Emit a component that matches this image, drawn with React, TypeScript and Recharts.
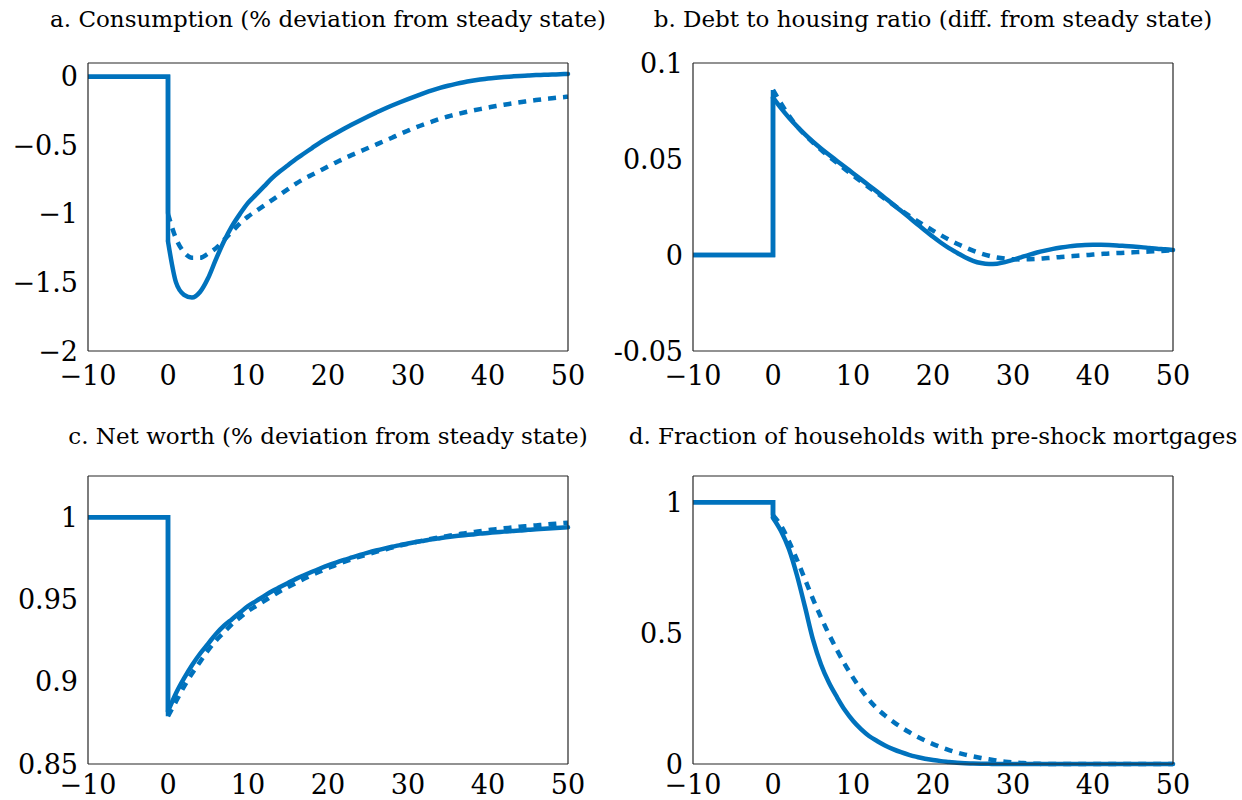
import React from "react";
import { LineChart, Line, XAxis, YAxis } from "recharts";

const BLUE = "#0072bd";
const FRAME = "#262626";
const TICK = "#a6a6a6";
const SERIF = '"DejaVu Serif", "Liberation Serif", Times, serif';

// quarters after the shock
const periods = [
  0, 1, 2, 3, 4, 5, 6, 7, 8, 9, 10, 11, 12, 13, 14, 15, 16, 17, 18, 19, 20, 21, 22, 23, 24, 25,
  26, 27, 28, 29, 30, 31, 32, 33, 34, 35, 36, 37, 38, 39, 40, 41, 42, 43, 44, 45, 46, 47, 48, 49, 50,
];
const xTicks = [-10, 0, 10, 20, 30, 40, 50];

// a. consumption
const consumptionSolid = [
  -1.2, -1.5, -1.59, -1.61, -1.57, -1.47, -1.33, -1.2, -1.09, -1.0, -0.92,
  -0.86, -0.8, -0.74, -0.69, -0.645, -0.6, -0.56, -0.52, -0.48, -0.445,
  -0.412, -0.38, -0.349, -0.319, -0.29, -0.262, -0.235, -0.21, -0.186, -0.163,
  -0.141, -0.12, -0.1, -0.082, -0.066, -0.052, -0.04, -0.03, -0.021, -0.013,
  -0.007, -0.002, 0.002, 0.006, 0.009, 0.012, 0.014, 0.016, 0.018, 0.02,
];
const consumptionDashed = [
  -1.0, -1.18, -1.28, -1.32, -1.32, -1.29, -1.25, -1.19, -1.13, -1.07, -1.02,
  -0.98, -0.94, -0.9, -0.86, -0.82, -0.78, -0.745, -0.715, -0.685, -0.655,
  -0.625, -0.597, -0.57, -0.545, -0.52, -0.495, -0.47, -0.445, -0.418, -0.393,
  -0.369, -0.347, -0.327, -0.307, -0.29, -0.275, -0.261, -0.248, -0.236, -0.225,
  -0.214, -0.204, -0.195, -0.186, -0.178, -0.17, -0.163, -0.157, -0.151, -0.146,
];
const consumptionTicks = [-2, -1.5, -1, -0.5, 0];

// b. debt to housing ratio
const debtSolid = [
  0.082, 0.0765, 0.0715, 0.067, 0.0628, 0.059, 0.0555, 0.0522, 0.049, 0.0458, 0.0426,
  0.0394, 0.0362, 0.033, 0.0297, 0.0264, 0.023, 0.0196, 0.0162, 0.0128, 0.0095,
  0.0064, 0.0036, 0.0012, -0.0012, -0.003, -0.0042, -0.0047, -0.0045, -0.0037, -0.0025,
  -0.0012, 0.0001, 0.0013, 0.0023, 0.0032, 0.0039, 0.0045, 0.0049, 0.0052, 0.0053,
  0.0053, 0.0052, 0.005, 0.0047, 0.0044, 0.0041, 0.0037, 0.0033, 0.003, 0.0026,
];
const debtDashed = [
  0.086, 0.079, 0.0725, 0.067, 0.0625, 0.0585, 0.0548, 0.0513, 0.048, 0.0447, 0.0415,
  0.0383, 0.0352, 0.0322, 0.0292, 0.0262, 0.0233, 0.0205, 0.0178, 0.0152, 0.0127,
  0.0103, 0.008, 0.0059, 0.004, 0.0023, 0.0008, -0.0004, -0.0013, -0.0019, -0.0022,
  -0.0023, -0.0022, -0.002, -0.0017, -0.0014, -0.001, -0.0007, -0.0004, -0.0001, 0.0002,
  0.0005, 0.0008, 0.001, 0.0012, 0.0014, 0.0016, 0.0018, 0.002, 0.0022, 0.0024,
];
const debtTicks = [-0.05, 0, 0.05, 0.1];

// c. net worth
const netWorthSolid = [
  0.882, 0.893, 0.902, 0.91, 0.917, 0.923, 0.929, 0.934, 0.938, 0.942, 0.946,
  0.949, 0.952, 0.955, 0.9575, 0.96, 0.9625, 0.9647, 0.9668, 0.9688, 0.9707,
  0.9724, 0.974, 0.9755, 0.977, 0.9784, 0.9797, 0.9809, 0.982, 0.983, 0.984,
  0.9849, 0.9857, 0.9865, 0.9872, 0.9879, 0.9885, 0.989, 0.9895, 0.99, 0.9904,
  0.9908, 0.9912, 0.9916, 0.9919, 0.9923, 0.9926, 0.9929, 0.9932, 0.9935, 0.9938,
];
const netWorthDashed = [
  0.879, 0.888, 0.897, 0.905, 0.912, 0.919, 0.925, 0.93, 0.935, 0.939, 0.943,
  0.946, 0.949, 0.952, 0.955, 0.9575, 0.96, 0.9625, 0.9648, 0.967, 0.969,
  0.971, 0.9728, 0.9745, 0.976, 0.9775, 0.9789, 0.9802, 0.9815, 0.9827, 0.9838,
  0.9849, 0.9859, 0.9869, 0.9878, 0.9886, 0.9894, 0.9901, 0.9908, 0.9915, 0.9921,
  0.9927, 0.9932, 0.9937, 0.9942, 0.9946, 0.995, 0.9954, 0.9958, 0.9962, 0.9966,
];
const netWorthTicks = [0.85, 0.9, 0.95, 1];

// d. fraction of households with pre-shock mortgages
const fractionSolid = [
  0.94, 0.89, 0.82, 0.72, 0.6, 0.475, 0.38, 0.31, 0.255, 0.205, 0.165,
  0.133, 0.107, 0.088, 0.071, 0.057, 0.045, 0.035, 0.027, 0.02, 0.015,
  0.011, 0.008, 0.005, 0.003, 0.002, 0.001, 0.0005, 0, 0, 0,
  0, 0, 0, 0, 0, 0, 0, 0, 0, 0,
  0, 0, 0, 0, 0, 0, 0, 0, 0, 0,
];
const fractionDashed = [
  0.95, 0.91, 0.85, 0.78, 0.705, 0.63, 0.56, 0.495, 0.435, 0.38, 0.33,
  0.285, 0.245, 0.212, 0.185, 0.162, 0.141, 0.122, 0.105, 0.09, 0.076,
  0.064, 0.053, 0.044, 0.036, 0.029, 0.023, 0.018, 0.013, 0.009, 0.006,
  0.004, 0.002, 0.001, 0, 0, 0, 0, 0, 0, 0,
  0, 0, 0, 0, 0, 0, 0, 0, 0, 0,
];
const fractionTicks = [0, 0.5, 1];

const minusLabel = (v: number) => (v < 0 ? "\u2212" + String(-v) : String(v));
const plainLabel = (v: number) => String(v);

type PanelSpec = {
  title: string;
  plotLeft: number;
  plotTop: number;
  titleTop: number;
  xGap: number;
  base: number;
  solid: number[];
  dashed: number[];
  yDomain: [number, number];
  yTicks: number[];
  yLabel: (v: number) => string;
};

const panels: PanelSpec[] = [
  {
    title: "a. Consumption (% deviation from steady state)",
    plotLeft: 88, plotTop: 63, titleTop: 8, xGap: 15, base: 0,
    solid: consumptionSolid, dashed: consumptionDashed,
    yDomain: [-2, 0.1], yTicks: consumptionTicks, yLabel: minusLabel,
  },
  {
    title: "b. Debt to housing ratio (diff. from steady state)",
    plotLeft: 693, plotTop: 63, titleTop: 8, xGap: 15, base: 0,
    solid: debtSolid, dashed: debtDashed,
    yDomain: [-0.05, 0.1], yTicks: debtTicks, yLabel: plainLabel,
  },
  {
    title: "c. Net worth (% deviation from steady state)",
    plotLeft: 88, plotTop: 476, titleTop: 425, xGap: 11, base: 1,
    solid: netWorthSolid, dashed: netWorthDashed,
    yDomain: [0.85, 1.025], yTicks: netWorthTicks, yLabel: plainLabel,
  },
  {
    title: "d. Fraction of households with pre-shock mortgages",
    plotLeft: 693, plotTop: 476, titleTop: 425, xGap: 11, base: 1,
    solid: fractionSolid, dashed: fractionDashed,
    yDomain: [0, 1.1], yTicks: fractionTicks, yLabel: plainLabel,
  },
];

const PLOT_W = 480;
const PLOT_H = 288;
const Y_W = 88;
const X_H = 40;
const M_TOP = 26;
const M_RIGHT = 30;

const tickText = { fontSize: 27, fontFamily: SERIF, fill: "#000" };

function Panel({ p }: { p: PanelSpec }) {
  const pre = [
    { t: -10, v: p.base },
    { t: 0, v: p.base },
  ];
  const solidPre = [...pre, { t: 0, v: p.solid[0] }];
  const dashedPre = [...pre, { t: 0, v: p.dashed[0] }];
  const solidPost = periods.map((t, i) => ({ t, v: p.solid[i] }));
  const dashedPost = periods.map((t, i) => ({ t, v: p.dashed[i] }));

  return (
    <>
      <div
        style={{
          position: "absolute",
          left: p.plotLeft + PLOT_W / 2,
          top: p.titleTop,
          transform: "translateX(-50%)",
          whiteSpace: "nowrap",
          fontFamily: SERIF,
          fontSize: 23,
          lineHeight: 1,
          color: "#000",
        }}
      >
        {p.title}
      </div>
      <div style={{ position: "absolute", left: p.plotLeft - Y_W, top: p.plotTop - M_TOP }}>
        <LineChart
          width={Y_W + PLOT_W + M_RIGHT}
          height={M_TOP + PLOT_H + X_H}
          margin={{ top: M_TOP, right: M_RIGHT, left: 0, bottom: 0 }}
        >
          <XAxis
            xAxisId="lab"
            dataKey="t"
            type="number"
            domain={[-10, 50]}
            ticks={xTicks}
            interval={0}
            height={X_H}
            axisLine={{ stroke: FRAME, strokeWidth: 1.2 }}
            tickLine={false}
            tickSize={0}
            tickMargin={p.xGap}
            tick={tickText}
            tickFormatter={minusLabel}
          />
          <XAxis
            xAxisId="bottomTicks"
            dataKey="t"
            type="number"
            domain={[-10, 50]}
            ticks={xTicks}
            interval={0}
            allowDataOverflow
            mirror
            axisLine={false}
            tick={false}
            tickLine={{ stroke: TICK, strokeWidth: 1 }}
            tickSize={10}
          />
          <XAxis
            xAxisId="topTicks"
            orientation="top"
            dataKey="t"
            type="number"
            domain={[-10, 50]}
            ticks={xTicks}
            interval={0}
            allowDataOverflow
            mirror
            axisLine={{ stroke: FRAME, strokeWidth: 1.2 }}
            tick={false}
            tickLine={{ stroke: TICK, strokeWidth: 1 }}
            tickSize={10}
          />
          <YAxis
            yAxisId="lab"
            type="number"
            domain={p.yDomain}
            ticks={p.yTicks}
            interval={0}
            width={Y_W}
            axisLine={{ stroke: FRAME, strokeWidth: 1.2 }}
            tickLine={false}
            tickSize={0}
            tickMargin={10}
            tick={tickText}
            tickFormatter={p.yLabel}
          />
          <YAxis
            yAxisId="leftTicks"
            type="number"
            domain={p.yDomain}
            ticks={p.yTicks}
            interval={0}
            allowDataOverflow
            mirror
            axisLine={false}
            tick={false}
            tickLine={{ stroke: TICK, strokeWidth: 1 }}
            tickSize={10}
          />
          <YAxis
            yAxisId="rightTicks"
            orientation="right"
            type="number"
            domain={p.yDomain}
            ticks={p.yTicks}
            interval={0}
            allowDataOverflow
            mirror
            axisLine={{ stroke: FRAME, strokeWidth: 1.2 }}
            tick={false}
            tickLine={{ stroke: TICK, strokeWidth: 1 }}
            tickSize={10}
          />
          <Line
            xAxisId="lab"
            yAxisId="lab"
            data={dashedPre}
            dataKey="v"
            type="linear"
            stroke={BLUE}
            strokeWidth={4.5}
            dot={false}
            activeDot={false}
            isAnimationActive={false}
          />
          <Line
            xAxisId="lab"
            yAxisId="lab"
            data={dashedPost}
            dataKey="v"
            type="monotone"
            stroke={BLUE}
            strokeWidth={4.5}
            strokeDasharray="8 7"
            dot={false}
            activeDot={false}
            isAnimationActive={false}
          />
          <Line
            xAxisId="lab"
            yAxisId="lab"
            data={solidPre}
            dataKey="v"
            type="linear"
            stroke={BLUE}
            strokeWidth={4.5}
            dot={false}
            activeDot={false}
            isAnimationActive={false}
          />
          <Line
            xAxisId="lab"
            yAxisId="lab"
            data={solidPost}
            dataKey="v"
            type="monotone"
            stroke={BLUE}
            strokeWidth={4.5}
            strokeLinecap="round"
            dot={false}
            activeDot={false}
            isAnimationActive={false}
          />
        </LineChart>
      </div>
    </>
  );
}

export default function App() {
  return (
    <div
      style={{
        position: "absolute",
        left: 0,
        top: 0,
        width: 1242,
        height: 800,
        background: "#fff",
        overflow: "hidden",
        fontFamily: SERIF,
      }}
    >
      {panels.map((p) => (
        <Panel key={p.title} p={p} />
      ))}
    </div>
  );
}
